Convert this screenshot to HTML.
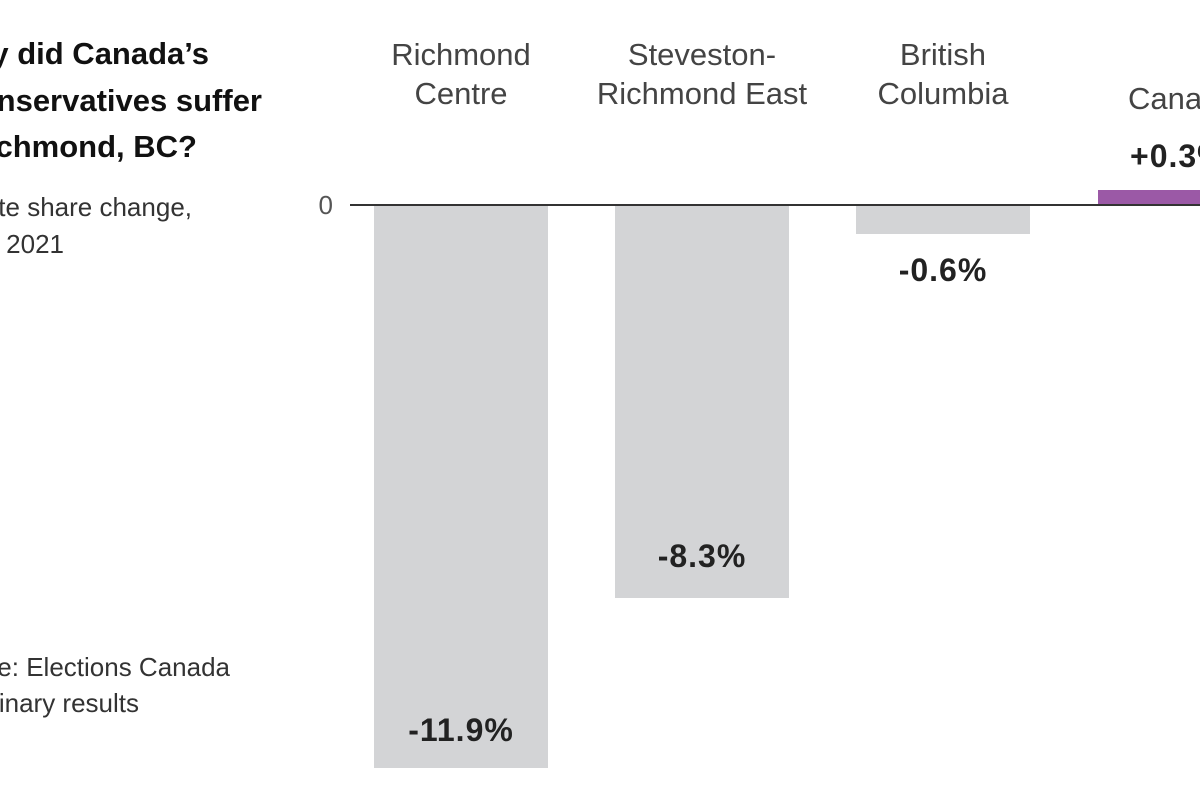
<!DOCTYPE html>
<html><head><style>
html,body{margin:0;width:1200px;height:800px;overflow:hidden;}
body{background:#fff;position:relative;font-family:"Liberation Sans",sans-serif;}
.r{position:absolute;white-space:nowrap;text-align:right;}
.c{position:absolute;white-space:nowrap;text-align:center;color:#444;font-size:31px;line-height:39px;}
.t{font-weight:bold;font-size:31px;color:#111;}
.s{font-size:26px;color:#333;}
.v{position:absolute;white-space:nowrap;text-align:center;font-weight:bold;font-size:32px;color:#222;letter-spacing:1px;}
.bar{position:absolute;background:#d3d4d6;}
</style></head><body>
<div class="r t" style="right:991px;top:36px;">Why did Canada’s</div>
<div class="r t" style="right:938px;top:83px;">Conservatives suffer</div>
<div class="r t" style="right:1003px;top:129px;">in Richmond, BC?</div>
<div class="r s" style="right:1008px;top:192px;">Vote share change,</div>
<div class="r s" style="right:1136px;top:229px;">2019 to 2021</div>
<div class="r s" style="right:970px;top:652px;">Source: Elections Canada</div>
<div class="r s" style="right:1061px;top:688px;">preliminary results</div>
<div class="r s" style="right:867px;top:190px;color:#555;">0</div>
<div style="position:absolute;left:350px;top:204px;width:850px;height:2px;background:#333;"></div>
<div class="bar" style="left:374px;top:206px;width:174px;height:562px;"></div>
<div class="bar" style="left:615px;top:206px;width:174px;height:392px;"></div>
<div class="bar" style="left:856px;top:206px;width:174px;height:28px;"></div>
<div style="position:absolute;left:1098px;top:190px;width:110px;height:14px;background:#9b59a6;"></div>
<div class="c" style="left:341px;width:240px;top:35px;">Richmond<br>Centre</div>
<div class="c" style="left:572px;width:260px;top:35px;">Steveston-<br>Richmond East</div>
<div class="c" style="left:823px;width:240px;top:35px;">British<br>Columbia</div>
<div class="c" style="left:1128px;top:79px;">Canada</div>
<div class="v" style="left:1130px;top:138px;">+0.3%</div>
<div class="v" style="left:823px;width:240px;top:252px;">-0.6%</div>
<div class="v" style="left:582px;width:240px;top:538px;">-8.3%</div>
<div class="v" style="left:341px;width:240px;top:712px;">-11.9%</div>
</body></html>
